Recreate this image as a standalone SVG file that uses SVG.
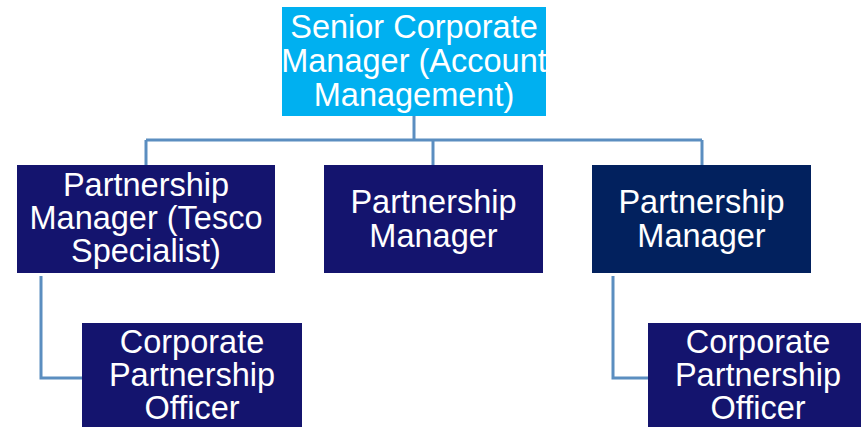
<svg xmlns="http://www.w3.org/2000/svg" width="861" height="427" viewBox="0 0 861 427">
  <style>
    .lbl { font-family: "Liberation Sans", Arial, Helvetica, sans-serif; font-size: 32.5px; fill: #ffffff; text-anchor: middle; }
    .link { fill: none; stroke: #5B8EC0; stroke-width: 3; }
    .head { fill: #00B0F0; }
    .mgr { fill: #14146E; }
    .mgr2 { fill: #02215E; }
  </style>
  <rect width="861" height="427" fill="#ffffff"/>

  <g id="connectors">
    <path class="link" d="M414,116 V140"/>
    <path class="link" d="M146,140 H702"/>
    <path class="link" d="M146,140 V165"/>
    <path class="link" d="M433,140 V165"/>
    <path class="link" d="M702,140 V165"/>
    <path class="link" d="M41,276 V378 H82"/>
    <path class="link" d="M613,276 V378 H648"/>
  </g>

  <g id="senior-manager">
    <rect class="head" x="282" y="7" width="264" height="109"/>
    <text class="lbl" x="414" y="38">Senior Corporate</text>
    <text class="lbl" x="414" y="72">Manager (Account</text>
    <text class="lbl" x="414" y="106">Management)</text>
  </g>

  <g id="pm-tesco">
    <rect class="mgr" x="17" y="165" width="258" height="108"/>
    <text class="lbl" x="146" y="196">Partnership</text>
    <text class="lbl" x="146" y="229">Manager (Tesco</text>
    <text class="lbl" x="146" y="262">Specialist)</text>
  </g>

  <g id="pm-middle">
    <rect class="mgr" x="324" y="165" width="219" height="108"/>
    <text class="lbl" x="433.5" y="213">Partnership</text>
    <text class="lbl" x="433.5" y="247">Manager</text>
  </g>

  <g id="pm-right">
    <rect class="mgr2" x="592" y="165" width="219" height="108"/>
    <text class="lbl" x="701.5" y="213">Partnership</text>
    <text class="lbl" x="701.5" y="247">Manager</text>
  </g>

  <g id="cpo-left">
    <rect class="mgr" x="82" y="323" width="220" height="110"/>
    <text class="lbl" x="192" y="353">Corporate</text>
    <text class="lbl" x="192" y="386">Partnership</text>
    <text class="lbl" x="192" y="419">Officer</text>
  </g>

  <g id="cpo-right">
    <rect class="mgr" x="648" y="323" width="220" height="110"/>
    <text class="lbl" x="758" y="353">Corporate</text>
    <text class="lbl" x="758" y="386">Partnership</text>
    <text class="lbl" x="758" y="419">Officer</text>
  </g>
</svg>
